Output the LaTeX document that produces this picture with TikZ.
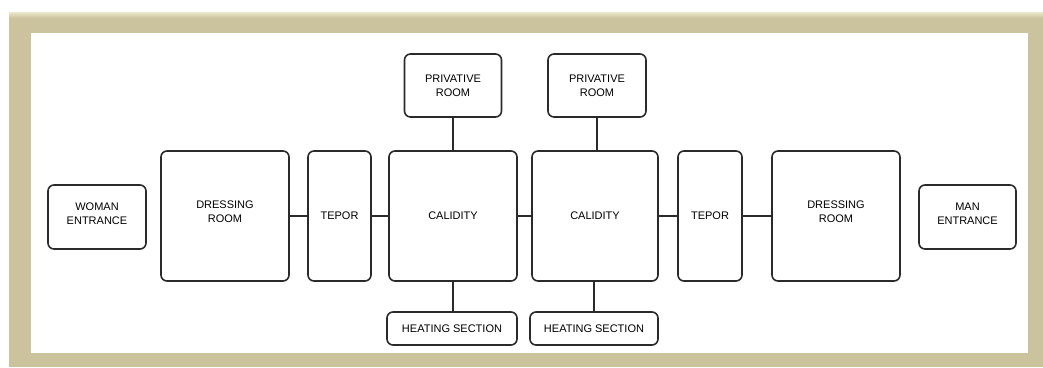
\documentclass[tikz,border=0pt]{standalone}
\usepackage{fontspec}
\setmainfont{Liberation Sans}
\definecolor{frametan}{HTML}{CBC39E}
\definecolor{framelight}{HTML}{EEE8CC}
\definecolor{inkgray}{HTML}{2A2A2A}
\begin{document}
\begin{tikzpicture}[x=1pt,y=-1pt,
  room/.style={draw=inkgray, line width=1.6pt, rounded corners=6pt, fill=white,
    inner sep=0pt, font=\fontsize{11}{14}\selectfont, text=black, align=center},
  link/.style={draw=inkgray, line width=1.6pt}]
  \useasboundingbox (0,0) rectangle (1043,367);
  % picture frame
  \fill[white] (0,0) rectangle (1043,367);
  \fill[frametan] (9,12) rectangle (1043,367);
  \shade[top color=framelight, bottom color=frametan] (9,12) rectangle (1043,18);
  \fill[white] (31,33) rectangle (1028,353);

  % rooms
  \node[room, minimum width=98pt, minimum height=64pt] (we) at (97,217) {};
  \node[room, minimum width=128pt, minimum height=130pt] (dl) at (225,216) {};
  \node[room, minimum width=63pt, minimum height=130pt] (tl) at (339.5,216) {TEPOR};
  \node[room, minimum width=128pt, minimum height=130pt] (c1) at (453,216) {CALIDITY};
  \node[room, minimum width=126pt, minimum height=130pt] (c2) at (595,216) {CALIDITY};
  \node[room, minimum width=64pt, minimum height=130pt] (tr) at (710,216) {TEPOR};
  \node[room, minimum width=128pt, minimum height=130pt] (dr) at (836,216) {};
  \node[room, minimum width=97pt, minimum height=64pt] (me) at (967.5,217) {};
  \node[room, minimum width=97pt, minimum height=63pt] (p1) at (453,85.5) {PRIVATIVE\\ROOM};
  \node[room, minimum width=98pt, minimum height=63pt] (p2) at (597,85.5) {PRIVATIVE\\ROOM};
  \node[room, minimum width=130pt, minimum height=33pt] (h1) at (452,328.5) {HEATING SECTION};
  \node[room, minimum width=128pt, minimum height=33pt] (h2) at (594,328.5) {HEATING SECTION};

  % labels set a little above centre
  \node[room, draw=none, fill=none] (wet) at (97,214) {WOMAN\\ENTRANCE};
  \node[room, draw=none, fill=none] (dlt) at (225,212) {DRESSING\\ROOM};
  \node[room, draw=none, fill=none] (drt) at (836,212) {DRESSING\\ROOM};
  \node[room, draw=none, fill=none] (met) at (967.5,214) {MAN\\ENTRANCE};

  % connections
  \draw[link] (dl.east) -- (tl.west);
  \draw[link] (tl.east) -- (c1.west);
  \draw[link] (c1.east) -- (c2.west);
  \draw[link] (c2.east) -- (tr.west);
  \draw[link] (tr.east) -- (dr.west);
  \draw[link] (p1.south) -- (p1.south |- c1.north);
  \draw[link] (p2.south) -- (p2.south |- c2.north);
  \draw[link] (c1.south) -- (c1.south |- h1.north);
  \draw[link] (h2.north) -- (h2.north |- c2.south);
\end{tikzpicture}
\end{document}
